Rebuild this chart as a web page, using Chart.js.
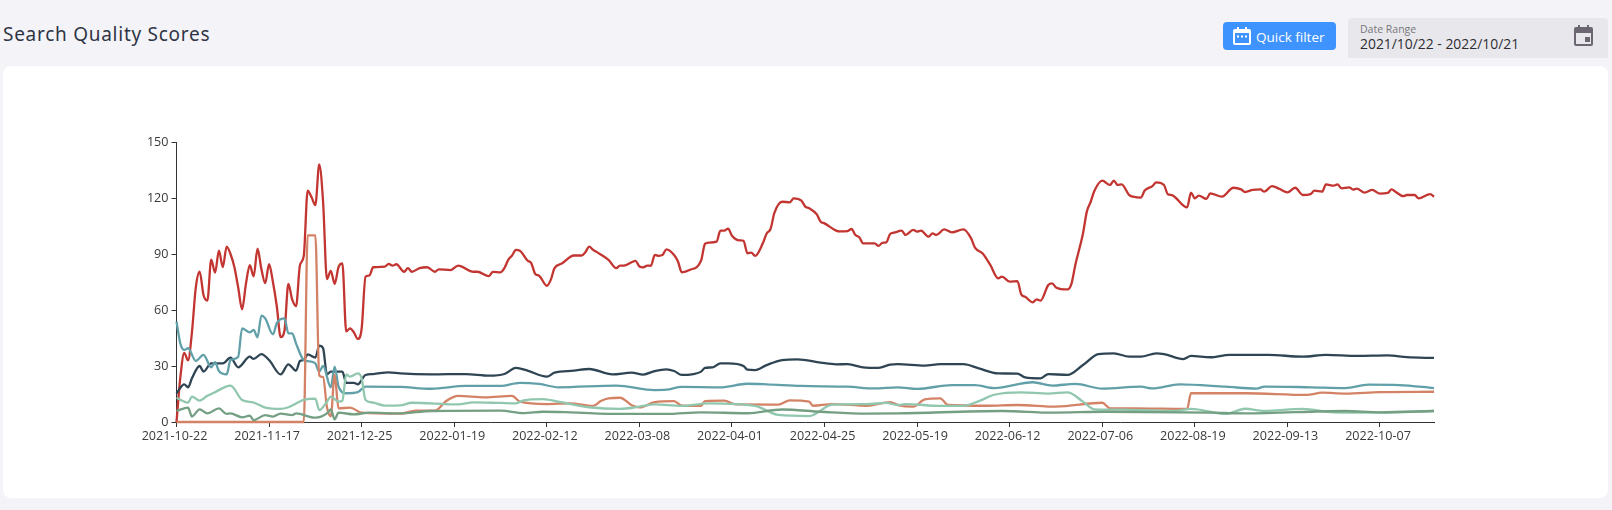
<!DOCTYPE html>
<html><head><meta charset="utf-8">
<script src="https://cdn.jsdelivr.net/npm/chart.js@4"></script>
<style>
html,body{margin:0;padding:0;width:1612px;height:510px;overflow:hidden;background:#f4f4f8;font-family:"Open Sans",sans-serif}
#card{position:absolute;left:3px;top:66px;width:1605px;height:432px;background:#fff;border-radius:8px}
#title{position:absolute;left:3px;top:22px;font:19px "Noto Sans",sans-serif;letter-spacing:.73px;color:#2f3445;line-height:24px}
#btn{position:absolute;left:1223px;top:22px;width:113px;height:28px;background:#3f93ff;border-radius:4px;color:#fff;font-size:13.5px;line-height:30px}
#btn span{position:absolute;left:33px}
#btn svg{position:absolute;left:10px;top:5px}
#range{position:absolute;left:1348px;top:18px;width:260px;height:40px;background:#e8e8ec;border-radius:4px 4px 0 0;color:#333}
#range .a{position:absolute;left:12px;top:4px;font-size:10.5px;color:#77777c;line-height:14px}
#range .b{position:absolute;left:12px;top:17px;font-size:13.9px;line-height:18px;color:#2d2d33}
#range svg{position:absolute;left:226px;top:7px}
#c{position:absolute;left:0;top:0}
</style></head><body>
<div id="card"></div>
<div id="title">Search Quality Scores</div>
<div id="btn"><svg width="18" height="18" viewBox="0 0 18 18"><path fill="#fff" d="M4 0h2v2h6V0h2v2h2a2 2 0 0 1 2 2v12a2 2 0 0 1-2 2H2a2 2 0 0 1-2-2V4a2 2 0 0 1 2-2h2zM2 6v10h14V6z"/><rect fill="#fff" x="4" y="8.5" width="2" height="2"/><rect fill="#fff" x="8" y="8.5" width="2" height="2"/><rect fill="#fff" x="12" y="8.5" width="2" height="2"/></svg><span>Quick filter</span></div>
<div id="range"><div class="a">Date Range</div><div class="b">2021/10/22 - 2022/10/21</div>
<svg width="19" height="21" viewBox="0 0 19 21"><path fill="#6b6672" d="M4 0h2v2h7V0h2v2h2a2 2 0 0 1 2 2v15a2 2 0 0 1-2 2H2a2 2 0 0 1-2-2V4a2 2 0 0 1 2-2h2zM2 8v11h15V8z"/><rect fill="#6b6672" x="11" y="12" width="5" height="5"/></svg></div>
<canvas id="c" width="1612" height="510"></canvas>
<script>
const dates = [
'2021-10-22','2021-10-23','2021-10-24','2021-10-25','2021-10-26','2021-10-27','2021-10-28','2021-10-29','2021-10-30','2021-10-31','2021-11-01','2021-11-02','2021-11-04','2021-11-05','2021-11-06','2021-11-07','2021-11-08','2021-11-09','2021-11-11','2021-11-12','2021-11-13','2021-11-14','2021-11-15','2021-11-16',
'2021-11-17','2021-11-18','2021-11-19','2021-11-20','2021-11-21','2021-11-22','2021-11-23','2021-11-24','2021-11-25','2021-11-26','2021-12-11','2021-12-12','2021-12-13','2021-12-14','2021-12-15','2021-12-16','2021-12-17','2021-12-18','2021-12-19','2021-12-20','2021-12-21','2021-12-22','2021-12-23','2021-12-24',
'2021-12-25','2021-12-26','2021-12-27','2021-12-28','2021-12-29','2021-12-30','2021-12-31','2022-01-02','2022-01-03','2022-01-04','2022-01-05','2022-01-06','2022-01-07','2022-01-08','2022-01-09','2022-01-10','2022-01-11','2022-01-12','2022-01-13','2022-01-14','2022-01-15','2022-01-16','2022-01-17','2022-01-18',
'2022-01-19','2022-01-20','2022-01-21','2022-01-22','2022-01-23','2022-01-24','2022-01-25','2022-01-26','2022-01-27','2022-01-28','2022-01-29','2022-01-30','2022-01-31','2022-02-01','2022-02-02','2022-02-03','2022-02-04','2022-02-05','2022-02-06','2022-02-07','2022-02-08','2022-02-09','2022-02-10','2022-02-11',
'2022-02-12','2022-02-13','2022-02-14','2022-02-15','2022-02-16','2022-02-17','2022-02-18','2022-02-19','2022-02-20','2022-02-21','2022-02-22','2022-02-23','2022-02-24','2022-02-25','2022-02-26','2022-02-27','2022-02-28','2022-03-01','2022-03-02','2022-03-03','2022-03-04','2022-03-05','2022-03-06','2022-03-07',
'2022-03-08','2022-03-09','2022-03-10','2022-03-11','2022-03-12','2022-03-13','2022-03-14','2022-03-15','2022-03-16','2022-03-17','2022-03-18','2022-03-19','2022-03-20','2022-03-21','2022-03-22','2022-03-23','2022-03-24','2022-03-25','2022-03-26','2022-03-27','2022-03-28','2022-03-29','2022-03-30','2022-03-31',
'2022-04-01','2022-04-02','2022-04-03','2022-04-04','2022-04-05','2022-04-06','2022-04-07','2022-04-08','2022-04-09','2022-04-10','2022-04-11','2022-04-12','2022-04-13','2022-04-14','2022-04-15','2022-04-16','2022-04-17','2022-04-18','2022-04-19','2022-04-20','2022-04-21','2022-04-22','2022-04-23','2022-04-24',
'2022-04-25','2022-04-26','2022-04-27','2022-04-28','2022-04-29','2022-04-30','2022-05-01','2022-05-02','2022-05-03','2022-05-04','2022-05-05','2022-05-06','2022-05-07','2022-05-08','2022-05-09','2022-05-10','2022-05-11','2022-05-12','2022-05-13','2022-05-14','2022-05-15','2022-05-16','2022-05-17','2022-05-18',
'2022-05-19','2022-05-20','2022-05-21','2022-05-22','2022-05-23','2022-05-24','2022-05-25','2022-05-26','2022-05-27','2022-05-28','2022-05-29','2022-05-30','2022-05-31','2022-06-01','2022-06-02','2022-06-03','2022-06-04','2022-06-05','2022-06-06','2022-06-07','2022-06-08','2022-06-09','2022-06-10','2022-06-11',
'2022-06-12','2022-06-13','2022-06-14','2022-06-15','2022-06-16','2022-06-17','2022-06-18','2022-06-19','2022-06-20','2022-06-21','2022-06-22','2022-06-23','2022-06-24','2022-06-25','2022-06-26','2022-06-27','2022-06-28','2022-06-29','2022-06-30','2022-07-01','2022-07-02','2022-07-03','2022-07-04','2022-07-05',
'2022-07-06','2022-07-07','2022-07-08','2022-07-09','2022-07-10','2022-07-11','2022-07-12','2022-07-13','2022-07-14','2022-07-15','2022-07-16','2022-07-17','2022-07-18','2022-07-19','2022-07-20','2022-07-21','2022-07-22','2022-07-23','2022-07-24','2022-07-25','2022-08-15','2022-08-16','2022-08-17','2022-08-18',
'2022-08-19','2022-08-20','2022-08-21','2022-08-22','2022-08-23','2022-08-24','2022-08-25','2022-08-26','2022-08-27','2022-08-28','2022-08-29','2022-08-30','2022-08-31','2022-09-02','2022-09-03','2022-09-04','2022-09-05','2022-09-06','2022-09-07','2022-09-08','2022-09-09','2022-09-10','2022-09-11','2022-09-12',
'2022-09-13','2022-09-14','2022-09-15','2022-09-16','2022-09-17','2022-09-18','2022-09-19','2022-09-20','2022-09-21','2022-09-22','2022-09-23','2022-09-24','2022-09-25','2022-09-26','2022-09-27','2022-09-28','2022-09-29','2022-09-30','2022-10-01','2022-10-02','2022-10-03','2022-10-04','2022-10-05','2022-10-06',
'2022-10-07','2022-10-08','2022-10-09','2022-10-10','2022-10-11','2022-10-12','2022-10-13','2022-10-14','2022-10-15','2022-10-16','2022-10-17','2022-10-18','2022-10-19','2022-10-20','2022-10-21'];
const tickLabels = ['2021-10-22','2021-11-17','2021-12-25','2022-01-19','2022-02-12','2022-03-08','2022-04-01','2022-04-25','2022-05-19','2022-06-12','2022-07-06','2022-08-19','2022-09-13','2022-10-07'];

const redAt = [0,1,2,3,4,5,6,7,8,9,10,11,12,13,14,15,16,17,18,19,20,21,22,23,24,25,26,27,28,29,30,31,32,33,34,35,36,37,38,39,40,41,42,43,44,45,46,47,48,49,50,51,54,55,56,57,59,60,61,63,65,67,68,71,73,77,78,81,82,84,85,86,87,88,89,91,92,93,94,96,97,98,100,103,105,106,107,108,109,112,114,115,116,118,119,120,121,122,123,124,125,126,127,129,130,131,133,136,137,138,140,141,142,143,144,146,147,148,149,150,152,153,154,155,157,159,160,162,163,164,166,167,168,171,172,174,175,176,177,178,181,182,183,184,185,186,188,189,191,192,193,195,196,197,199,201,204,206,207,209,211,213,214,216,218,219,220,222,223,224,226,227,228,231,232,233,235,236,237,238,240,242,243,244,245,247,248,250,251,253,254,256,257,258,262,263,264,265,267,268,271,274,276,277,279,281,282,284,286,288,290,292,294,295,297,298,300,301,302,304,305,306,308,310,312,314,315,316,318,319,321,322,325,326];
const redVal = [0,24,37,33,48,72,80.5,68,65,87,80,91.8,83,94,90,83,72,60.4,74,84,78,92.8,82,74.4,84.5,75,62,45.5,49,74,65.5,62,84,89,124,120.5,116.2,138,118,76.5,81,74,83,85,48.5,50.2,48,44.5,50,77.8,78.5,82.9,83.2,84.7,83.8,84.5,80.5,82.4,80.5,82.4,82.9,80.5,81.8,81.4,83.8,80.5,80.5,78.2,80.4,80.2,82.4,86.9,89.2,92.2,91.8,86.5,85,79.3,78.4,73,76,82.4,85,89.2,89.2,91,94,92.2,91,86.9,82.4,83.8,83.8,85.6,86.3,83.3,82.8,83.8,83.7,89.5,89,89.5,92.5,89.5,86,80.2,81.4,86.5,95.4,96.1,96.6,102.5,102.5,103.6,99.8,97.3,97.1,90.4,90.7,89,95.7,101,103.4,112,118,117.7,119.8,118.6,115.4,114.5,111.2,107.3,106.4,102.5,102.1,102.3,103.4,100.2,99,95.7,95.7,94.3,96,96.2,100.7,101.4,102.5,100.2,102.9,102,102.5,99.3,101,100.2,103.2,101.6,103.2,98.4,93.4,90.3,84,77,77.9,75.2,75.5,68.4,67.1,64.1,65.7,65,73.4,74.3,72.1,71,74,84,101,112.7,118,124,129.3,127,129.3,127,127.3,121.5,120.7,120.2,124,126.4,128.4,127,122,121.6,115,122.9,119.8,121.3,119.5,122.5,120.7,125.5,124.6,123.2,124.3,124.6,123.4,126.4,124.8,123,125.5,121.6,122.1,123.9,123.4,127.3,126.6,127.3,125.2,125.7,124.5,125,122.9,124.3,122.3,122.7,124.6,123.4,121,121.6,121.6,119.8,122.1,120.7];

const navyAt = [0,2,3,4,6,7,9,12,14,16,19,20,22,24,27,29,31,32,33,34,36,37,38,39,40,43,44,46,47,49,51,55,58,66,75,81,85,88,91,96,98,103,107,113,118,121,124,127,129,131,134,136,137,139,141,143,147,148,150,153,157,161,167,171,174,178,182,185,187,194,198,204,208,213,218,220,224,226,231,235,239,243,247,250,254,256,261,263,268,273,283,292,298,306,314,319,326];
const navyVal = [15.4,20.2,18.6,23.4,30,27,31.4,31.4,34.5,29.3,35,33.8,36.4,33.2,25.5,30.9,27.5,32.7,33.2,36.2,34.5,40.9,39.5,25.5,27,27,21,21,20.2,25.2,25.7,26.6,26,25.5,25.7,24.8,25.7,29,27.5,24.3,26.4,27.5,28.4,25.5,26.4,25.4,27.3,28.2,27.3,25.2,25.7,27,29,29.3,31.4,31.4,30,28,27.8,30.5,33.2,33.6,31.8,30.9,31,29.3,29,30.7,31,30.2,31,31,28.7,26,25.9,23.9,23.4,25.7,25.2,30.5,36.4,36.8,35,35,36.8,36.4,33.7,35.4,34.7,36,36,35,36,35.4,35.7,34.7,34.3];

const tealAt = [0,1,2,3,5,7,9,10,11,13,14,16,17,19,20,21,22,23,25,26,28,29,30,31,33,35,36,37,38,40,41,42,44,47,49,58,66,75,84,89,94,99,114,124,127,131,141,148,153,162,174,181,187,192,201,207,212,222,227,233,240,250,253,260,272,280,282,294,303,309,317,326];
const tealVal = [53.8,42,38.6,39.5,32.7,36,29.3,32,27.3,25.5,33.2,35,50.2,48,49.3,45.4,57,55.5,47,53,55.5,47.5,47.5,42,33.2,32.3,31.4,27,30,18.6,29.6,19,15.4,16,19,18.8,17.8,19.3,19.3,21,20.4,18.6,19.5,17.1,17.3,18.8,18.6,20.5,20.2,19.3,18.9,18,18.6,17.7,19.8,19.8,18.2,21.3,19.5,20.4,17.9,18.9,18,20.2,18.9,17.9,19,18.6,18.2,20,19.8,18.2];

const orangeAt = [0,33,34,36,37,38,39,40,41,42,45,48,58,62,67,70,73,80,87,89,96,102,108,110,112,115,118,120,124,129,131,136,137,142,145,156,159,164,165,170,179,185,187,191,194,198,200,210,218,228,240,242,248,262,263,277,293,297,303,312,326];
const orangeVal = [0,0,100,100,25,24,8,3,25.2,7.3,7.7,5,4.5,6.1,6.1,11.4,14,13.2,14,10.9,9.6,10,8.6,11.2,12.7,13,9,7.8,10.7,11.2,8.7,8.6,11.2,11.4,9.4,9.3,11.6,10.9,8.7,9.6,8.7,10.7,9.1,8.2,12.1,12.7,9.1,8.7,9.1,8.2,10.3,7.3,7.3,7,15.4,15.4,14.5,15.7,15.2,16,16.2];

const mintAt = [0,3,4,6,8,10,14,17,20,23,27,29,33,36,37,39,40,42,43,44,45,47,48,49,51,54,58,61,73,77,84,88,90,95,99,107,115,120,124,131,138,150,156,164,170,179,184,187,189,198,204,208,212,219,226,231,235,238,245,259,263,272,277,282,292,300,312,326];
const mintVal = [13,10.4,13.6,11.4,14,16,19.5,11.8,10.4,7.7,7,7.9,11.8,12.5,6.4,10.9,13.6,10.9,11.4,25.5,24.3,26,23.4,11.8,10.4,8.8,8.9,10.3,9.4,10.5,10.2,10,11.6,12.3,10.9,7.9,7,8.2,9.4,8.6,10,8.6,3.8,3.2,9.3,9.6,10.2,9.1,9.6,8.6,8.6,11.2,14.6,15.9,15.2,15.9,10.9,6.8,6.6,5.9,7,4.3,7.1,5.9,7,5.2,5,5.9];

const greenAt = [0,3,4,6,8,11,13,14,17,19,20,23,25,27,30,31,36,39,40,41,42,46,50,58,66,84,90,95,102,115,127,136,148,157,167,179,187,214,227,241,268,277,303,312,326];
const greenVal = [5.9,7.7,2.9,6.8,4.6,7.3,4.3,4.6,2.5,3.4,1,3.7,2.9,4.5,3.7,4.6,2.3,4.6,6.8,1.4,5,4.1,5,4.6,5.9,6.1,4.8,5.5,5.2,4.3,4.3,5.2,4.7,6.7,5.5,4.5,4.6,5.9,5,5.5,5,4.6,5.9,5.2,5.9];

const yTicks = [0,30,60,90,120,150];
const seriesColors = ['#c23531','#2f4554','#61a0a8','#d48265','#91c7ae','#749f83'];
const seriesNames = ['Red','Navy','Teal','Orange','Mint','Green'];
const seriesAt = [redAt,navyAt,tealAt,orangeAt,mintAt,greenAt];
const seriesVal = [redVal,navyVal,tealVal,orangeVal,mintVal,greenVal];

new Chart(document.getElementById('c'),{
  type:'line',
  data:{labels:dates,datasets:seriesNames.map((n,s)=>({
    label:n,
    data:seriesAt[s].map((k,j)=>({x:dates[k],y:seriesVal[s][j]})),
    borderColor:seriesColors[s],backgroundColor:seriesColors[s],
    borderWidth:2.3,pointRadius:0,cubicInterpolationMode:'monotone',fill:false,order:6-s,clip:false
  }))},
  options:{
    responsive:false,animation:false,
    layout:{padding:{left:100,top:142,right:178,bottom:40}},
    plugins:{legend:{display:false},tooltip:{enabled:false},title:{display:false}},
    scales:{
      x:{type:'category',offset:false,
        afterFit(s){s.height=48;},
        afterBuildTicks(s){s.ticks=s.ticks.filter(t=>tickLabels.includes(dates[t.value]));},
        border:{color:'#333',width:1},
        grid:{drawOnChartArea:false,drawTicks:true,tickLength:5,tickColor:'#333'},
        ticks:{autoSkip:false,maxRotation:0,minRotation:0,color:'#3a3a3a',padding:2,labelOffset:-2,font:{family:'"Open Sans",sans-serif',size:12.6},
          callback(v){return dates[v];}}
      },
      y:{min:0,max:150,
        afterFit(s){s.width=76.5;},
        afterBuildTicks(s){s.ticks=yTicks.map(v=>({value:v}));},
        border:{color:'#333',width:1},
        grid:{drawOnChartArea:false,drawTicks:true,tickLength:5,tickColor:'#333'},
        ticks:{color:'#3a3a3a',padding:3,font:{family:'"Open Sans",sans-serif',size:12.6}}
      }
    }
  }
});
</script></body></html>
